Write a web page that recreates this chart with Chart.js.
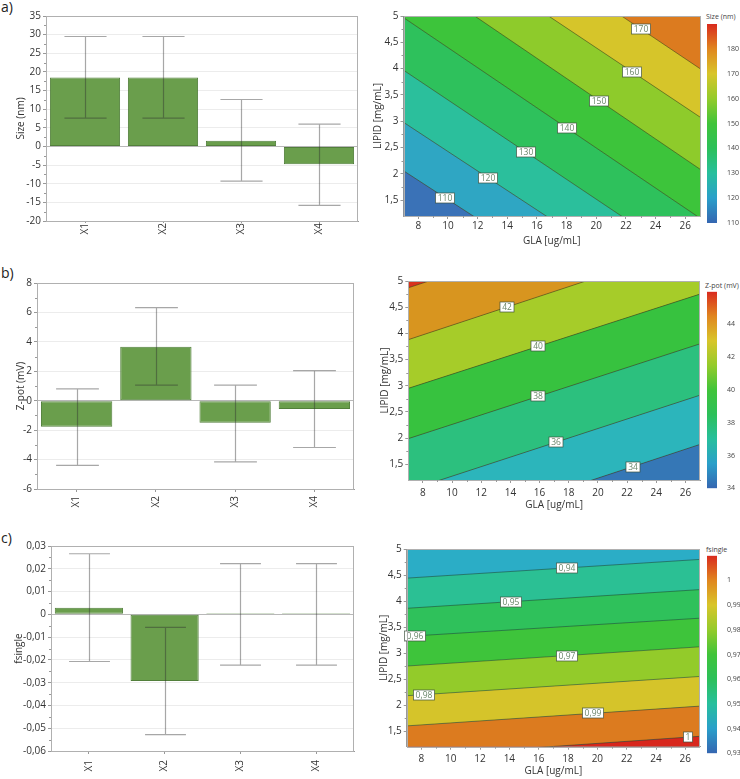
<!DOCTYPE html>
<html>
<head>
<meta charset="utf-8">
<script src="https://cdn.jsdelivr.net/npm/chart.js@4.4.1/dist/chart.umd.min.js"></script>
<style>
html, body { margin: 0; padding: 0; background: #fff; overflow: hidden; }
body { width: 740px; height: 779px; position: relative; font-family: 'Open Sans', sans-serif; }
canvas { position: absolute; }
.panel { position: absolute; font-size: 14px; line-height: 14px; color: #222; }
.cbtitle { position: absolute; font-size: 7px; line-height: 9px; color: #444; white-space: nowrap; }
</style>
</head>
<body>
<div class="panel" style="left:1px;top:0px">a)</div>
<div class="panel" style="left:1px;top:266px">b)</div>
<div class="panel" style="left:1px;top:531px">c)</div>
<div class="cbtitle" style="left:706px;top:12px">Size (nm)</div>
<div class="cbtitle" style="left:705px;top:281px">Z-pot (mV)</div>
<div class="cbtitle" style="left:706px;top:545px">fsingle</div>

<canvas id="barA" width="362" height="250" style="left:0;top:0"></canvas>
<canvas id="barB" width="362" height="260" style="left:0;top:265px"></canvas>
<canvas id="barC" width="362" height="249" style="left:0;top:530px"></canvas>
<canvas id="cntA" width="342" height="250" style="left:360px;top:0"></canvas>
<canvas id="cntB" width="342" height="255" style="left:360px;top:265px"></canvas>
<canvas id="cntC" width="342" height="249" style="left:360px;top:530px"></canvas>
<canvas id="cbA" width="37" height="240" style="left:703px;top:0"></canvas>
<canvas id="cbB" width="37" height="240" style="left:703px;top:265px"></canvas>
<canvas id="cbC" width="37" height="249" style="left:703px;top:530px"></canvas>

<script>
// effect bars (coefficients with confidence intervals)
const factors = ['X1', 'X2', 'X3', 'X4'];

const sizeEffect = [18.5, 18.5, 1.5, -4.8];
const sizeLow = [7.6, 7.6, -9.3, -15.8];
const sizeHigh = [29.5, 29.5, 12.6, 6.0];
const sizeTicks = [-20, -15, -10, -5, 0, 5, 10, 15, 20, 25, 30, 35];

const zpotEffect = [-1.77, 3.67, -1.5, -0.57];
const zpotLow = [-4.4, 1.06, -4.16, -3.18];
const zpotHigh = [0.8, 6.33, 1.06, 2.05];
const zpotTicks = [-6, -4, -2, 0, 2, 4, 6, 8];

const fsingleEffect = [0.0029, -0.0293, 0.0005, 0.0005];
const fsingleLow = [-0.0207, -0.0528, -0.0223, -0.0223];
const fsingleHigh = [0.0266, -0.0057, 0.0223, 0.0223];
const fsingleTicks = [-0.06, -0.05, -0.04, -0.03, -0.02, -0.01, 0, 0.01, 0.02, 0.03];

// contour plots: GLA on x, LIPID on y
const glaRange = [7, 27];
const lipidRange = [1.2, 5];
const glaTicks = [8, 10, 12, 14, 16, 18, 20, 22, 24, 26];
const lipidTicks = [1.5, 2, 2.5, 3, 3.5, 4, 4.5, 5];

// each contour line: LIPID value where it meets GLA = 7 and GLA = 27 (bottom to top)
const sizeLevels = [110, 120, 130, 140, 150, 160, 170];
const sizeAt7 = [2.06, 2.98, 3.97, 4.97, 5.92, 6.84, 7.78];
const sizeAt27 = [-1.6, -0.72, 0.2, 1.16, 2.09, 3.08, 4.0];
const sizeLabelX = [9.8, 12.7, 15.25, 18.0, 20.2, 22.4, 23.0];
const sizeBands = ['#3a72b7', '#2fa6c3', '#2bbf9c', '#2ec15c', '#3dc43b', '#8ecb2b', '#d6c52a', '#dc7b1f'];

const zpotLevels = [34, 36, 38, 40, 42, 44];
const zpotAt7 = [0.04, 1.0, 1.99, 2.95, 3.88, 4.87];
const zpotAt27 = [1.88, 2.82, 3.8, 4.75, 5.72, 6.7];
const zpotLabelX = [22.4, 17.1, 15.9, 15.9, 13.8, null];
const zpotBands = ['#3577b6', '#2cb5bb', '#2cc07e', '#37c23f', '#a6cc29', '#d8951f', '#d8321c'];

const fsLevels = [1.0, 0.99, 0.98, 0.97, 0.96, 0.95, 0.94];
const fsAt7 = [1.01, 1.6, 2.18, 2.75, 3.32, 3.86, 4.44];
const fsAt27 = [1.4, 1.98, 2.55, 3.12, 3.67, 4.22, 4.8];
const fsLabelX = [26.2, 19.7, 8.2, 17.9, 7.6, 14.1, 17.9];
const fsBands = ['#d8271d', '#dc7b1f', '#d5c42a', '#93cb2a', '#3ec43b', '#2fc15b', '#2bc094', '#2badc6'];

// colour bars
const sizeScale = [110, 190];
const sizeScaleTicks = [110, 120, 130, 140, 150, 160, 170, 180];
const zpotScale = [34, 46];
const zpotScaleTicks = [34, 36, 38, 40, 42, 44];
const fsScale = [0.93, 1.01];
const fsScaleTicks = [0.93, 0.94, 0.95, 0.96, 0.97, 0.98, 0.99, 1];
const paletteStops = [0, 0.125, 0.25, 0.375, 0.5, 0.625, 0.75, 0.875, 1];
const paletteColors = ['#3566b1', '#2a9fca', '#27bf9d', '#2cc05a', '#40c43a', '#94cb2b', '#d8c52a', '#e0861f', '#d92a1e'];

Chart.defaults.font.family = "'Open Sans', sans-serif";
Chart.defaults.font.size = 10;
Chart.defaults.color = '#333';

const comma = v => String(v).replace('.', ',');
const comma2 = v => v === 0 ? '0' : v.toFixed(2).replace('.', ',');

const errorBars = {
  id: 'errorBars',
  afterDatasetsDraw(chart, args, o) {
    const { ctx, scales: { x, y } } = chart;
    const meta = chart.getDatasetMeta(0);
    const half = x.width / o.low.length * 0.27;
    ctx.save();
    ctx.strokeStyle = 'rgba(45,45,45,0.42)';
    ctx.lineWidth = 1.2;
    o.low.forEach((lo, i) => {
      const px = Math.round(meta.data[i].x) + 0.5;
      const yl = y.getPixelForValue(lo), yh = y.getPixelForValue(o.high[i]);
      ctx.beginPath();
      ctx.moveTo(px, yl); ctx.lineTo(px, yh);
      ctx.moveTo(px - half, yl); ctx.lineTo(px + half, yl);
      ctx.moveTo(px - half, yh); ctx.lineTo(px + half, yh);
      ctx.stroke();
    });
    ctx.restore();
  }
};

const frame = {
  id: 'frame',
  afterDraw(chart) {
    const { ctx, chartArea: a } = chart;
    ctx.save();
    ctx.strokeStyle = '#b0b0b0';
    ctx.lineWidth = 1;
    ctx.strokeRect(Math.round(a.left) + 0.5, Math.round(a.top) + 0.5, Math.round(a.right - a.left) - 1, Math.round(a.bottom - a.top));
    ctx.restore();
  }
};

// small ticks halfway between the labelled ones
const minorTicks = {
  id: 'minorTicks',
  afterDraw(chart, args, o) {
    const { ctx, chartArea: a } = chart;
    ctx.save();
    ctx.strokeStyle = '#999';
    ctx.lineWidth = 1;
    (o.axes || []).forEach(id => {
      const s = chart.scales[id];
      const t = s.ticks.map(k => k.value);
      for (let i = 1; i < t.length; i++) {
        const m = s.getPixelForValue((t[i] + t[i - 1]) / 2);
        ctx.beginPath();
        if (s.isHorizontal()) { ctx.moveTo(Math.round(m) + 0.5, a.bottom); ctx.lineTo(Math.round(m) + 0.5, a.bottom + 2); }
        else { ctx.moveTo(a.left, Math.round(m) + 0.5); ctx.lineTo(a.left - 2, Math.round(m) + 0.5); }
        ctx.stroke();
      }
    });
    ctx.restore();
  }
};

function barChart(id, values, low, high, ticks, title, fmt, g) {
  return new Chart(document.getElementById(id), {
    type: 'bar',
    data: {
      labels: factors,
      datasets: [{
        data: values,
        backgroundColor: '#6a9e4c',
        borderColor: '#527f3b',
        borderWidth: 1,
        borderSkipped: false,
        barPercentage: 0.9,
        categoryPercentage: 1
      }]
    },
    options: {
      responsive: false,
      animation: false,
      layout: { padding: { top: g.top, right: g.right, left: 0, bottom: 0 } },
      plugins: {
        legend: { display: false },
        tooltip: { enabled: false },
        errorBars: { low, high },
        minorTicks: { axes: ['y'] }
      },
      scales: {
        x: {
          grid: { offset: false, drawOnChartArea: false, tickLength: g.xTick, color: '#999' },
          border: { color: '#999' },
          ticks: { maxRotation: 90, minRotation: 90, padding: g.xPad },
          afterFit: s => { s.height = g.xHeight; }
        },
        y: {
          min: ticks[0],
          max: ticks[ticks.length - 1],
          afterBuildTicks: s => { s.ticks = ticks.map(v => ({ value: v })); },
          grid: {
            color: c => (c.tick && c.tick.value === 0) ? '#b8b8b8' : '#ececec',
            tickColor: '#999',
            tickLength: 3
          },
          border: { color: '#999' },
          ticks: { padding: 2, callback: v => fmt(v) },
          title: { display: true, text: title, padding: { top: g.ytp, bottom: 0 } },
          afterFit: s => { s.width = g.yWidth; }
        }
      }
    },
    plugins: [errorBars, frame, minorTicks]
  });
}

// colour of the band above the last contour line fills the plot first
const bandBackground = {
  id: 'bandBackground',
  beforeDraw(chart, args, o) {
    const { ctx, chartArea: a } = chart;
    ctx.save();
    ctx.fillStyle = o.color;
    ctx.fillRect(a.left, a.top, a.right - a.left, a.bottom - a.top);
    ctx.restore();
  }
};

const contourLabels = {
  id: 'contourLabels',
  afterDatasetsDraw(chart, args, o) {
    const { ctx, scales: { x, y } } = chart;
    ctx.save();
    ctx.font = "8.5px 'Open Sans', sans-serif";
    ctx.textAlign = 'center';
    ctx.textBaseline = 'middle';
    o.levels.forEach((lv, i) => {
      const gx = o.labelX[i];
      if (gx == null) return;
      const gy = o.at7[i] + (o.at27[i] - o.at7[i]) * (gx - glaRange[0]) / (glaRange[1] - glaRange[0]);
      const px = Math.round(x.getPixelForValue(gx)), py = Math.round(y.getPixelForValue(gy));
      const text = comma(lv);
      const w = Math.round(ctx.measureText(text).width) + 4, h = 10;
      ctx.fillStyle = '#fff';
      ctx.fillRect(px - w / 2, py - h / 2, w, h);
      ctx.strokeStyle = 'rgba(60,80,60,0.85)';
      ctx.lineWidth = 0.8;
      ctx.strokeRect(px - w / 2, py - h / 2, w, h);
      ctx.fillStyle = '#6a866a';
      ctx.fillText(text, px, py + 0.5);
    });
    ctx.restore();
  }
};

function contourChart(id, levels, at7, at27, bands, labelX, g) {
  const datasets = levels.map((lv, i) => ({
    label: comma(lv),
    data: [{ x: glaRange[0], y: at7[i] }, { x: glaRange[1], y: at27[i] }],
    borderColor: 'rgba(30,55,30,0.6)',
    borderWidth: 0.8,
    backgroundColor: bands[i],
    fill: i === 0 ? 'start' : '-1',
    pointRadius: 0,
    tension: 0
  }));
  return new Chart(document.getElementById(id), {
    type: 'line',
    data: { datasets },
    options: {
      responsive: false,
      animation: false,
      layout: { padding: { top: g.top, right: g.right, left: 0, bottom: 0 } },
      plugins: {
        legend: { display: false },
        tooltip: { enabled: false },
        filler: { drawTime: 'beforeDatasetsDraw' },
        bandBackground: { color: bands[bands.length - 1] },
        contourLabels: { levels, at7, at27, labelX },
        minorTicks: { axes: ['x', 'y'] }
      },
      scales: {
        x: {
          type: 'linear',
          min: glaRange[0],
          max: glaRange[1],
          afterBuildTicks: s => { s.ticks = glaTicks.map(v => ({ value: v })); },
          grid: { drawOnChartArea: false, tickLength: 3, color: '#999' },
          border: { color: '#999' },
          ticks: { padding: g.xPad },
          title: { display: true, text: 'GLA [ug/mL]', padding: { top: 0, bottom: g.xtb } },
          afterFit: s => { s.height = g.xHeight; }
        },
        y: {
          type: 'linear',
          min: lipidRange[0],
          max: lipidRange[1],
          afterBuildTicks: s => { s.ticks = lipidTicks.map(v => ({ value: v })); },
          grid: { drawOnChartArea: false, tickLength: 3, color: '#999' },
          border: { color: '#999' },
          ticks: { padding: 2, callback: v => comma(v) },
          title: { display: true, text: 'LIPID [mg/mL]', padding: { top: g.ytp, bottom: 0 } },
          afterFit: s => { s.width = g.yWidth; }
        }
      }
    },
    plugins: [bandBackground, contourLabels, frame, minorTicks]
  });
}

function colorBar(id, range, ticks, fmt, g) {
  const shade = c => {
    const chart = c.chart, y = chart.scales.y;
    if (!chart.chartArea || !y) return paletteColors[0];
    const grad = chart.ctx.createLinearGradient(0, y.getPixelForValue(range[0]), 0, y.getPixelForValue(range[1]));
    paletteStops.forEach((s, i) => grad.addColorStop(s, paletteColors[i]));
    return grad;
  };
  return new Chart(document.getElementById(id), {
    type: 'bar',
    data: {
      labels: [''],
      datasets: [{ data: [range], backgroundColor: shade, borderWidth: 0, barPercentage: 1, categoryPercentage: 1 }]
    },
    options: {
      responsive: false,
      animation: false,
      layout: { padding: { left: 4, right: 0, top: g.top, bottom: g.bottom } },
      plugins: { legend: { display: false }, tooltip: { enabled: false } },
      scales: {
        x: { display: false },
        y: {
          position: 'right',
          min: range[0],
          max: range[1],
          afterBuildTicks: s => { s.ticks = ticks.map(v => ({ value: v })); },
          grid: { display: false },
          border: { display: false },
          ticks: { padding: 2, color: '#444', font: { size: 7 }, callback: v => fmt(v) },
          afterFit: s => { s.width = 23; }
        }
      }
    }
  });
}

barChart('barA', sizeEffect, sizeLow, sizeHigh, sizeTicks, 'Size (nm)', v => String(v),
  { top: 16, right: 4, yWidth: 46, xHeight: 29, ytp: 14.7, xTick: 2, xPad: 0 });
barChart('barB', zpotEffect, zpotLow, zpotHigh, zpotTicks, 'Z-pot (mV)', v => String(v),
  { top: 18, right: 8, yWidth: 37, xHeight: 36, ytp: 14.7, xTick: 3, xPad: 4 });
barChart('barC', fsingleEffect, fsingleLow, fsingleHigh, fsingleTicks, 'fsingle', comma2,
  { top: 16, right: 8, yWidth: 51, xHeight: 28, ytp: 13.3, xTick: 3, xPad: 6 });

contourChart('cntA', sizeLevels, sizeAt7, sizeAt27, sizeBands, sizeLabelX,
  { top: 16, right: 2, yWidth: 43.5, xHeight: 34, ytp: 12, xPad: 1, xtb: 3 });
contourChart('cntB', zpotLevels, zpotAt7, zpotAt27, zpotBands, zpotLabelX,
  { top: 16, right: 2, yWidth: 48.3, xHeight: 40, ytp: 19, xPad: 4, xtb: 9 });
contourChart('cntC', fsLevels, fsAt7, fsAt27, fsBands, fsLabelX,
  { top: 19, right: 2, yWidth: 46.7, xHeight: 32.3, ytp: 18, xPad: 3, xtb: 2.3 });

colorBar('cbA', sizeScale, sizeScaleTicks, v => String(v), { top: 24, bottom: 17 });
colorBar('cbB', zpotScale, zpotScaleTicks, v => String(v), { top: 26.7, bottom: 16.7 });
colorBar('cbC', fsScale, fsScaleTicks, comma, { top: 25.7, bottom: 25.7 });
</script>
</body>
</html>
